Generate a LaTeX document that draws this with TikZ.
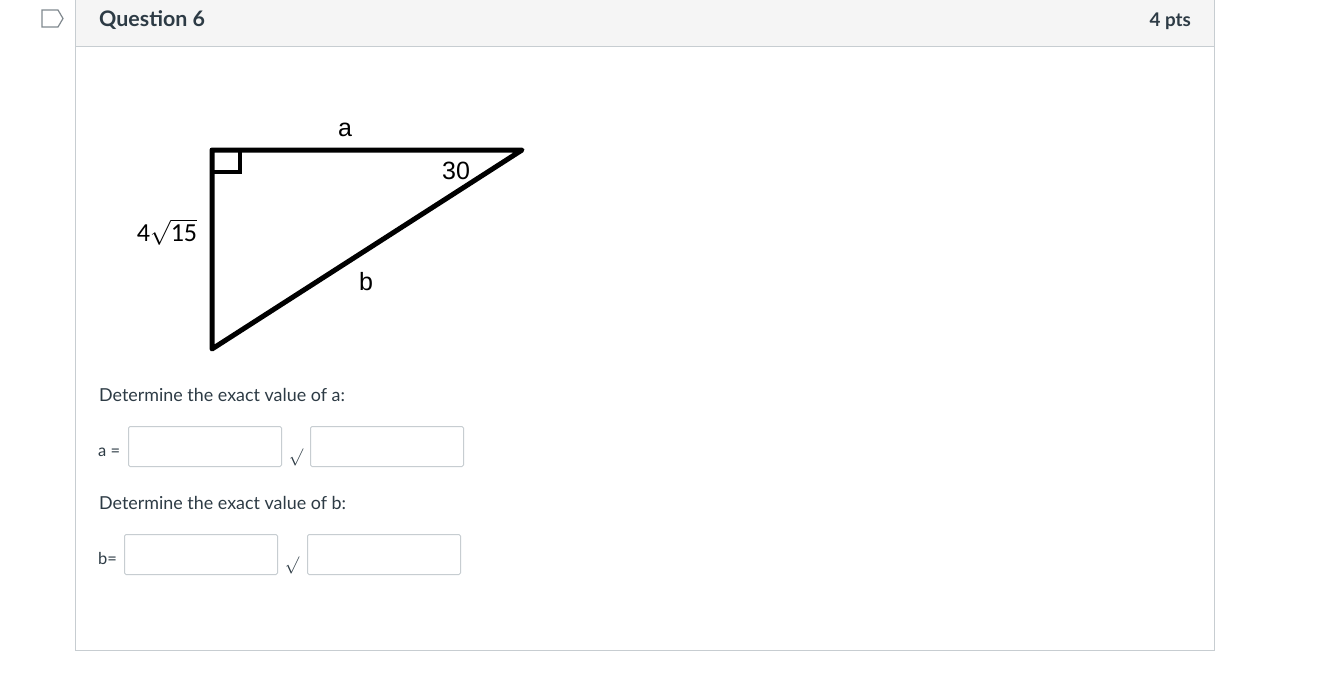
\documentclass[tikz,border=0pt]{standalone}
\usepackage{fontspec}
\setmainfont{Lato}
\newfontfamily\arialfont{Liberation Sans}
\newfontfamily\calfont{Carlito}
\usetikzlibrary{positioning}

\definecolor{canvastext}{HTML}{2D3B45}
\definecolor{canvasline}{HTML}{C7CDD1}
\definecolor{canvashead}{HTML}{F5F5F5}

\tikzset{
  answerbox/.style={draw=canvasline, line width=1pt, rounded corners=1.5pt, minimum width=153pt, minimum height=40pt, inner sep=0pt},
  prompt/.style={anchor=base west, text=canvastext, font=\fontsize{17.9}{21}\selectfont, inner sep=0pt},
  lbl/.style={anchor=base west, text=canvastext, font=\fontsize{16.5}{18}\selectfont, inner sep=0pt},
  sidelbl/.style={font=\arialfont\fontsize{25}{28}\selectfont, inner sep=0pt},
  surdsign/.style={text=canvastext, font=\fontsize{19}{21}\selectfont, inner sep=0pt}
}

\begin{document}
\begin{tikzpicture}[x=1pt, y=-1pt]
  \useasboundingbox (0,0) rectangle (1332,673);
  \fill[white] (0,0) rectangle (1332,673);

  % header and frame
  \fill[canvashead] (75,0) rectangle (1214,46);
  \draw[canvasline, line width=1pt] (75,0) -- (75,650) -- (1214,650) -- (1214,0);
  \draw[canvasline, line width=1pt] (75,46) -- (1214,46);
  \draw[canvastext!60, line width=1.2pt] (42,10) -- (58,10) -- (63,18.5) -- (58,27) -- (42,27) -- cycle;
  \node[anchor=base west, text=canvastext, font=\bfseries\fontsize{21.4}{25}\selectfont, inner sep=0pt] (title) at (99,26) {Question 6};
  \node[anchor=base east, text=canvastext, font=\bfseries\fontsize{18.8}{22}\selectfont, inner sep=0pt] (points) at (1191,26) {4 pts};

  % triangle
  \coordinate (rt) at (212,150);
  \coordinate (ac) at (522,150);
  \coordinate (bt) at (212,349);
  \draw[line width=5pt, line join=round] (ac) -- (rt) -- (bt) -- cycle;
  \draw[line width=3.5pt] (rt) rectangle ++(28,22);
  \node[sidelbl] (sa) at (345,130) {a};
  \node[sidelbl] (sb) at (366,282) {b};
  \node[sidelbl] (ang) at (456,171) {30};
  \node[font=\calfont\fontsize{26}{30}\selectfont, inner sep=0pt] (sh) at (167,232) {4$\sqrt{\mbox{\calfont 15}}$};

  % answer a
  \node[prompt] (qa) at (99,401) {Determine the exact value of a:};
  \node[lbl] (la) at (98,456) {a =};
  \node[answerbox, anchor=north west] (a1) at (128,426) {};
  \node[surdsign] (ra) at (296,457) {$\surd$};
  \node[answerbox, anchor=north west] (a2) at (310,426) {};

  % answer b
  \node[prompt] (qb) at (99,509) {Determine the exact value of b:};
  \node[lbl] (lb) at (98,564) {b=};
  \node[answerbox, anchor=north west] (b1) at (124,534) {};
  \node[surdsign] (rb) at (292,565) {$\surd$};
  \node[answerbox, anchor=north west] (b2) at (307,534) {};
\end{tikzpicture}
\end{document}
